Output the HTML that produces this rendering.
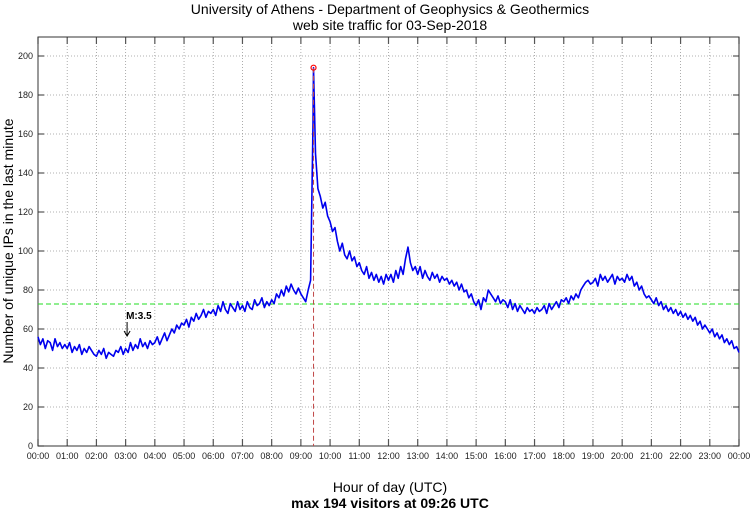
<!DOCTYPE html>
<html><head><meta charset="utf-8"><style>
body{margin:0;background:#fff;font-family:"Liberation Sans",sans-serif}
svg{display:block}
</style></head><body>
<svg id="c" width="750" height="511" xmlns="http://www.w3.org/2000/svg"></svg>
<script>
const hourLabels=["00:00","01:00","02:00","03:00","04:00","05:00","06:00","07:00","08:00","09:00","10:00","11:00","12:00","13:00","14:00","15:00","16:00","17:00","18:00","19:00","20:00","21:00","22:00","23:00","00:00"];
const yTicks=[0,20,40,60,80,100,120,140,160,180,200];
const visitors=[
56,52,55,50,54,53,49,55,51,53,50,52,
50,53,48,51,49,52,47,50,48,51,49,47,
46,49,47,50,45,48,47,46,49,48,51,47,
50,48,53,49,52,50,55,51,53,50,54,52,
53,56,52,55,58,54,57,60,58,62,60,63,
62,65,61,66,64,68,65,67,70,66,69,68,
70,67,72,69,74,70,68,73,71,69,74,70,
72,69,74,71,70,75,72,73,76,71,74,72,
75,73,78,76,80,77,82,79,83,80,78,81,
78,76,74,80,85,165,150,132,128,122,125,118,
115,110,112,105,100,104,98,96,100,95,97,92,
94,90,88,92,86,89,85,88,84,87,83,88,
85,88,84,90,86,92,88,96,102,94,90,92,
88,92,86,90,87,85,89,86,88,84,87,85,
86,83,85,82,84,80,83,79,80,76,78,74,
72,75,70,76,74,80,78,76,74,77,73,75,
74,71,75,70,73,69,72,70,68,71,69,70,
68,71,69,70,72,68,73,70,72,74,71,75,
74,76,73,77,75,78,76,80,82,84,85,83,
84,86,82,88,85,87,84,86,88,83,87,85,
86,84,88,85,87,82,84,80,82,78,76,77,
75,73,76,72,74,70,72,69,71,68,70,67,
69,66,68,65,67,64,66,62,64,60,62,60,
58,60,56,58,55,57,53,55,52,54,50,51,48];
const stepMinutes=5;
const peakMinute=566, peakValue=194;
const meanValue=72.8;
const quakeMinute=183, quakeLabel="M:3.5";

const L=38,R=739,T=37,B=446;
const xs=m=>L+m/1440*(R-L);
const ys=v=>B-v*(B-56)/200;
const svg=document.getElementById('c');
const NS="http://www.w3.org/2000/svg";
function mk(tag,attrs,parent){const e=document.createElementNS(NS,tag);for(const k in attrs)e.setAttribute(k,attrs[k]);(parent||svg).appendChild(e);return e;}

const grid=mk('g',{});


hourLabels.forEach((h,i)=>{const x=xs(i*60);
 if(i>0&&i<24)mk('line',{x1:x,x2:x,y1:T,y2:B,stroke:'#999','stroke-width':0.8,'stroke-dasharray':'1,2'},grid);
 mk('line',{x1:x,x2:x,y1:B,y2:B-7,stroke:'#555','stroke-width':1.2},grid);
 mk('line',{x1:x,x2:x,y1:T,y2:T+7,stroke:'#555','stroke-width':1.2},grid);
 const t=mk('text',{x:x,y:B+13,'font-size':9,'text-anchor':'middle',fill:'#222'});t.textContent=h;
 
 
});
yTicks.forEach(v=>{const y=ys(v);
 if(v>0)mk('line',{x1:L,x2:R,y1:y,y2:y,stroke:'#999','stroke-width':0.8,'stroke-dasharray':'1,2'},grid);
 mk('line',{x1:L,x2:L+6,y1:y,y2:y,stroke:'#555','stroke-width':1.2},grid);
 mk('line',{x1:R-6,x2:R,y1:y,y2:y,stroke:'#555','stroke-width':1.2},grid);
 const t=mk('text',{x:L-5,y:y+3,'font-size':9,'text-anchor':'end',fill:'#222'});t.textContent=v;
 
 
});
const frame=mk('rect',{x:L,y:T,width:R-L,height:B-T,fill:'none',stroke:'#333','stroke-width':1});



const mean=mk('line',{x1:L,x2:R,y1:ys(meanValue),y2:ys(meanValue),stroke:'#22dd22','stroke-width':1,'stroke-dasharray':'5,3'});



const pts=[];
visitors.forEach((v,i)=>{const m=i*stepMinutes;
 if(pts.length&&pts[pts.length-1][0]<peakMinute&&m>peakMinute)pts.push([peakMinute,peakValue]);
 pts.push([m,v]);});
const line=mk('polyline',{points:pts.map(p=>xs(p[0]).toFixed(1)+','+ys(p[1]).toFixed(1)).join(' '),fill:'none',stroke:'#0000ee','stroke-width':1.6,'stroke-linejoin':'round'});



const pl=mk('line',{x1:xs(peakMinute),x2:xs(peakMinute),y1:ys(peakValue),y2:B,stroke:'#c04848','stroke-width':1,'stroke-dasharray':'5,3'});


const pc=mk('circle',{cx:xs(peakMinute),cy:ys(peakValue),r:2.5,fill:'none',stroke:'#ff0000','stroke-width':1.2});



const qx=xs(quakeMinute);
const qt=mk('text',{x:qx-1,y:319,'font-size':10,'font-weight':'bold',fill:'#000'});qt.textContent=quakeLabel;


const qa=mk('path',{d:`M${qx} 322 L${qx} 336 M${qx-3} 331 L${qx} 336 L${qx+3} 331`,stroke:'#000','stroke-width':1,fill:'none'});



function txt(s,a,name){const t=mk('text',a);t.textContent=s;return t;}
txt('University of Athens - Department of Geophysics & Geothermics',{x:390,y:14,'font-size':14,'text-anchor':'middle'},'chart-title');
txt('web site traffic for 03-Sep-2018',{x:390,y:30,'font-size':14,'text-anchor':'middle'},'chart-subtitle');
txt('Hour of day (UTC)',{x:390,y:492,'font-size':14,'text-anchor':'middle'},'x-axis-title');
txt('max 194 visitors at 09:26 UTC',{x:390,y:508,'font-size':14,'font-weight':'bold','text-anchor':'middle'},'max-visitors-note');
txt('Number of unique IPs in the last minute',{x:0,y:0,'font-size':14,'text-anchor':'middle',transform:'translate(13,241) rotate(-90)'},'y-axis-title');
</script>
</body></html>
